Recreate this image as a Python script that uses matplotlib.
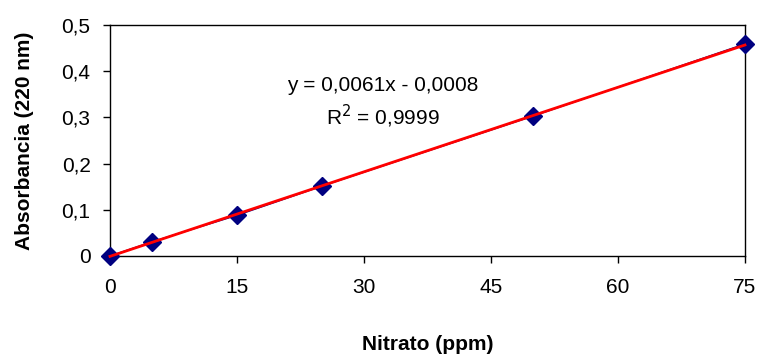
import matplotlib
matplotlib.use("Agg")
import matplotlib.pyplot as plt
import numpy as np

plt.rcParams["font.family"] = ["Liberation Sans", "DejaVu Sans"]

# datos de la curva de calibración
nitrato = [0, 5, 15, 25, 50, 75]
absorbancia = [0.0, 0.031, 0.088, 0.151, 0.303, 0.459]
pendiente = 0.0061
intercepto = -0.0008
x_ticks = [0, 15, 30, 45, 60, 75]
y_ticks = [0, 0.1, 0.2, 0.3, 0.4, 0.5]
y_labels = ["0", "0,1", "0,2", "0,3", "0,4", "0,5"]

fig = plt.figure(figsize=(7.58, 3.56), dpi=100)
ax = fig.add_axes([0.1451, 0.2809, 0.8377, 0.6489])

# puntos medidos
ax.plot(nitrato, absorbancia, linestyle="-", color="#000080", lw=1,
        marker="D", markersize=9, markerfacecolor="#000080",
        markeredgecolor="#000080", zorder=3, clip_on=False)
# línea de tendencia
x_fit = np.array([nitrato[0], nitrato[-1]])
ax.plot(x_fit, pendiente * x_fit + intercepto, color="#ff0000", lw=2,
        zorder=4, clip_on=False)

ax.set_xlim(0, 75)
ax.set_ylim(0, 0.5)
ax.set_xticks(x_ticks)
ax.set_xticklabels([str(t) for t in x_ticks])
ax.set_yticks(y_ticks)
ax.set_yticklabels(y_labels)
ax.tick_params(axis="both", direction="out", length=5, width=1,
               labelsize=15, colors="black")
ax.tick_params(axis="x", pad=11)
ax.tick_params(axis="y", pad=9)
for s in ax.spines.values():
    s.set_linewidth(1)
    s.set_color("black")

ax.text(32.2, 0.37, "y = 0,0061x - 0,0008", ha="center", va="center", fontsize=15)
ax.text(32.2, 0.302, "R$^2$ = 0,9999", ha="center", va="center", fontsize=15)

ax.set_xlabel("Nitrato (ppm)", fontsize=15, fontweight="bold", va="center")
ax.xaxis.set_label_coords(0.5, -0.385)
ax.set_ylabel("Absorbancia (220 nm)", fontsize=15, fontweight="bold", va="center")
ax.yaxis.set_label_coords(-0.134, 0.5)

fig.savefig("out.png", dpi=100)
